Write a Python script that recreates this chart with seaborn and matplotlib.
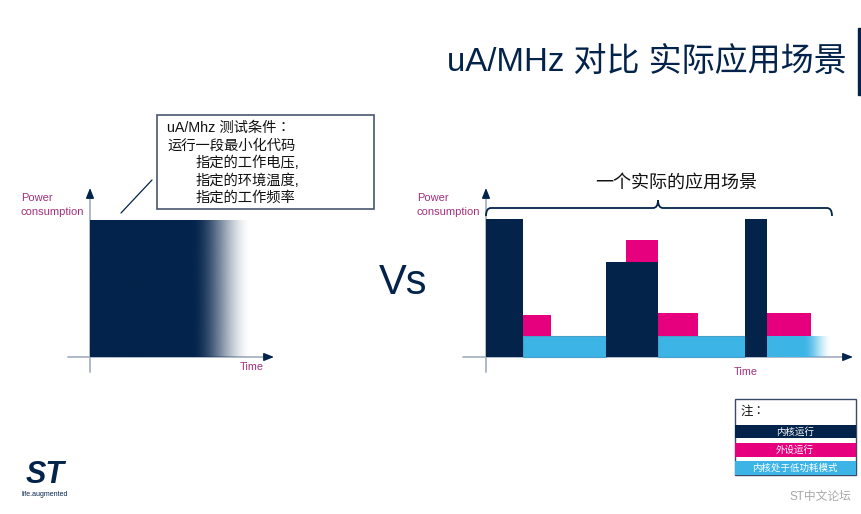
import numpy as np
import pandas as pd
import matplotlib
matplotlib.use("Agg")
import matplotlib.pyplot as plt
from matplotlib.patches import Rectangle, PathPatch, Polygon
from matplotlib.path import Path
import seaborn as sns

# ---------------- data (time / power in arbitrary units) ----------------
# benchmark run: one continuous stretch of core activity
bench_power = 13.7
bench_solid_end = 10.2
bench_end = 16.2

# real application: core running
core_start = [0.0, 12.0, 25.9]
core_end = [3.7, 17.2, 28.1]
core_power = [13.8, 9.5, 13.8]

# peripherals running (stacked on whatever is below)
periph_start = [3.7, 14.0, 17.2, 28.1]
periph_end = [6.5, 17.2, 21.2, 32.5]
periph_base = [2.1, 9.5, 2.1, 2.1]
periph_top = [4.2, 11.7, 4.4, 4.4]

# core in low-power mode
sleep_start = [3.7, 17.2, 28.1]
sleep_end = [12.0, 25.9, 34.6]
sleep_power = [2.1, 2.1, 2.1]
sleep_fade_from = 31.7

scenario_span = [0.0, 34.6]

legend_labels = ["内核运行", "外设运行", "内核处于低功耗模式"]

# ---------------- style ----------------
sns.set_theme(style="white")
plt.rcParams["font.family"] = ["Liberation Sans", "Noto Sans CJK SC", "DejaVu Sans"]
TC = ["Liberation Sans", "Noto Sans CJK TC", "DejaVu Sans"]

NAVY = "#03234b"
MAGENTA = "#e6007e"
SKY = "#3cb4e6"
AXIS = "#a9b3c6"
LABEL = "#a3307f"

W, H = 862, 514
fig = plt.figure(figsize=(W / 100, H / 100), dpi=100)
fig.patch.set_facecolor("white")


def fx(x):
    return x / W


def fy(y):
    return 1 - y / H


def make_axes(px_left, px_right, xlim):
    ax = fig.add_axes([fx(px_left), fy(372), (px_right - px_left) / W, 184 / H])
    ax.set_xlim(*xlim)
    ax.set_ylim(-1.5, 16.9)
    ax.set_axis_off()
    ax.patch.set_alpha(0)
    return ax


def draw_axes_lines(ax):
    x0, x1 = ax.get_xlim()
    y0, y1 = ax.get_ylim()
    ax.plot([0, 0], [y0, y1 - 0.6], color=AXIS, lw=1.3, zorder=1, clip_on=False)
    ax.plot([x0, x1 - 0.6], [0, 0], color=AXIS, lw=1.3, zorder=1, clip_on=False)
    ax.annotate("", xy=(0, y1), xytext=(0, y1 - 0.9),
                arrowprops=dict(arrowstyle="-|>,head_length=0.5,head_width=0.2",
                                color=NAVY, lw=1.0, shrinkA=0, shrinkB=0),
                annotation_clip=False)
    ax.annotate("", xy=(x1, 0), xytext=(x1 - 0.9, 0),
                arrowprops=dict(arrowstyle="-|>,head_length=0.5,head_width=0.2",
                                color=NAVY, lw=1.0, shrinkA=0, shrinkB=0),
                annotation_clip=False)


def fading_block(ax, x_start, x_solid, x_end, bottom, top, color):
    n = 400
    xs = np.linspace(x_start, x_end, n)
    t = np.clip((xs - x_solid) / (x_end - x_solid), 0, 1)
    alpha = 1 - t * t * (3 - 2 * t)
    rgba = np.zeros((1, n, 4))
    rgba[..., :3] = matplotlib.colors.to_rgb(color)
    rgba[..., 3] = alpha
    ax.imshow(rgba, extent=[x_start, x_end, bottom, top], aspect="auto",
              interpolation="bilinear", zorder=2)


# ---------------- left: uA/MHz benchmark ----------------
axL = make_axes(68, 274, (-2.2, 18.4))
draw_axes_lines(axL)
fading_block(axL, 0, bench_solid_end, bench_end, 0, bench_power, NAVY)
axL.set_xlim(-2.2, 18.4)
axL.set_ylim(-1.5, 16.9)

# ---------------- right: a real application ----------------
axR = make_axes(463, 853, (-2.3, 36.7))
draw_axes_lines(axR)

core = pd.DataFrame({"start": core_start, "end": core_end, "power": core_power})
periph = pd.DataFrame({"start": periph_start, "end": periph_end,
                       "base": periph_base, "top": periph_top})
sleep = pd.DataFrame({"start": sleep_start, "end": sleep_end, "power": sleep_power})

solid_sleep = sleep.iloc[:-1]
axR.bar(solid_sleep["start"], solid_sleep["power"],
        width=solid_sleep["end"] - solid_sleep["start"], align="edge",
        color=SKY, edgecolor="#4a9fc9", linewidth=0.8, zorder=2)
last = sleep.iloc[-1]
fading_block(axR, last["start"], sleep_fade_from, last["end"], 0, last["power"], SKY)

axR.bar(core["start"], core["power"], width=core["end"] - core["start"],
        align="edge", color=NAVY, linewidth=0, zorder=3)
axR.bar(periph["start"], periph["top"] - periph["base"],
        width=periph["end"] - periph["start"], bottom=periph["base"],
        align="edge", color=MAGENTA, linewidth=0, zorder=3)
axR.set_xlim(-2.3, 36.7)
axR.set_ylim(-1.5, 16.9)

# curly brace over the whole scenario
b0, b1 = scenario_span
bm = (b0 + b1) / 2 - 0.1
by, bl, bt, r = 14.9, 14.1, 15.7, 0.5
codes = [Path.MOVETO, Path.CURVE3, Path.CURVE3,
         Path.LINETO, Path.CURVE3, Path.CURVE3,
         Path.MOVETO, Path.CURVE3, Path.CURVE3,
         Path.LINETO, Path.CURVE3, Path.CURVE3]
verts = [(b0, bl), (b0, by), (b0 + r, by),
         (bm - r, by), (bm, by), (bm, bt),
         (bm, bt), (bm, by), (bm + r, by),
         (b1 - r, by), (b1, by), (b1, bl)]
axR.add_patch(PathPatch(Path(verts, codes), facecolor="none", edgecolor=NAVY,
                        lw=1.3, clip_on=False, zorder=4))

# ---------------- texts ----------------
fig.text(fx(447), fy(62), "uA/MHz 对比 实际应用场景", fontsize=23.8, color=NAVY,
         ha="left", va="center")
fig.patches.append(Rectangle((fx(858), fy(95)), 4 / W, 67 / H,
                             transform=fig.transFigure, color=NAVY))

fig.text(fx(403), fy(283), "Vs", fontsize=30, color=NAVY, ha="center", va="center")

for x0 in (21, 417):
    fig.text(fx(x0), fy(198), "Power", fontsize=8, color=LABEL, ha="left", va="center")
    fig.text(fx(x0), fy(212), "consumption", fontsize=8, color=LABEL, ha="left", va="center")
fig.text(fx(252), fy(367), "Time", fontsize=7.8, color=LABEL, ha="center", va="center")
fig.text(fx(746), fy(372), "Time", fontsize=7.8, color=LABEL, ha="center", va="center")

fig.text(fx(676), fy(183), "一个实际的应用场景", fontsize=13, color="#111111",
         ha="center", va="center")

# callout describing the benchmark conditions
fig.patches.append(Rectangle((fx(157), fy(209)), (374 - 157) / W, (209 - 115) / H,
                             transform=fig.transFigure, facecolor="white",
                             edgecolor="#4a5670", lw=1.2))
fig.add_artist(plt.Line2D([fx(121), fx(152)], [fy(213), fy(180)],
                          transform=fig.transFigure, color=NAVY, lw=0.9))
callout = [(167, 128, "uA/Mhz 测试条件："),
           (167, 146, "运行一段最小化代码"),
           (196, 163, "指定的工作电压,"),
           (196, 181, "指定的环境温度,"),
           (196, 198, "指定的工作频率")]
for i, (x, y, s) in enumerate(callout):
    fig.text(fx(x), fy(y), s, fontsize=10.3, color="#111111", ha="left", va="center",
             family=TC if i == 0 else None)

# legend box
fig.patches.append(Rectangle((fx(735), fy(475)), (856 - 735) / W, (475 - 399) / H,
                             transform=fig.transFigure, facecolor="white",
                             edgecolor="#3b4a6b", lw=1.0))
fig.text(fx(741), fy(412), "注：", fontsize=9, color="#111111", ha="left", va="center",
         family=TC)
rows = [(425, 438, NAVY), (443, 457, MAGENTA), (461, 475, SKY)]
for (y0, y1, c), lab in zip(rows, legend_labels):
    fig.patches.append(Rectangle((fx(735), fy(y1)), (856 - 735) / W, (y1 - y0) / H,
                                 transform=fig.transFigure, facecolor=c, lw=0))
    fig.text(fx(795), fy((y0 + y1) / 2), lab, fontsize=6.8, color="white",
             ha="center", va="center")

fig.text(fx(820), fy(497), "ST中文论坛", fontsize=8.5, color="#a8a8a8",
         ha="center", va="center")

# company mark
fig.text(fx(45), fy(475), "ST", fontsize=22, fontweight="bold", fontstyle="italic",
         color=NAVY, ha="center", va="center")
fig.text(fx(45), fy(495), "life.augmented", fontsize=5, color=NAVY,
         ha="center", va="center")

fig.savefig("out.png", dpi=100, facecolor="white")
